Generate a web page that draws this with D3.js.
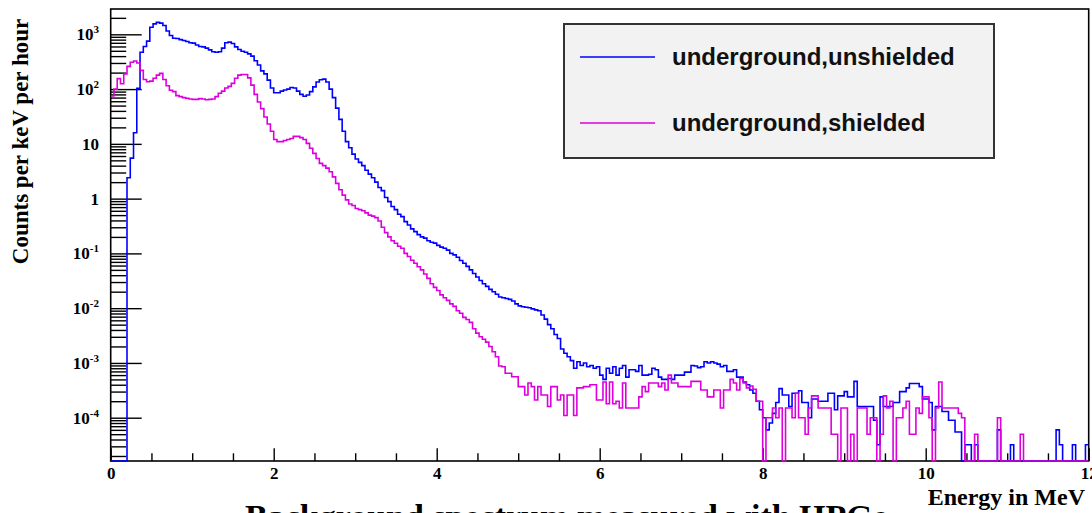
<!DOCTYPE html>
<html>
<head>
<meta charset="utf-8">
<script src="https://cdn.jsdelivr.net/npm/d3@7"></script>
<style>
  body { margin: 0; background: #fff; }
  svg { display: block; }
</style>
</head>
<body>
<svg id="chart" width="1092" height="513"></svg>
<script>
// Energy bins: 300 bins of 0.04 MeV from 0 to 12 MeV
const binWidth = 0.04;

// Counts per keV per hour, underground detector without shielding
const unshielded = [
  0, 0, 0, 0, 0, 2.4, 5.5, 16, 103, 470,
  600, 750, 1350, 1550, 1650, 1600, 1450, 1150, 950, 850,
  840, 800, 770, 740, 700, 690, 640, 600, 590, 560,
  520, 480, 470, 480, 560, 700, 720, 680, 590, 530,
  490, 470, 440, 400, 330, 275, 215, 190, 146, 105,
  86, 86, 92, 96, 100, 107, 105, 92, 80, 74,
  78, 90, 110, 135, 148, 152, 135, 100, 70, 45,
  28, 17, 11, 8.5, 6.5, 5.3, 4.6, 4.0, 3.3, 2.8,
  2.4, 2.0, 1.6, 1.4, 1.05, 0.88, 0.72, 0.63, 0.52, 0.47,
  0.38, 0.33, 0.28, 0.25, 0.22, 0.2, 0.19, 0.17, 0.16, 0.154,
  0.14, 0.13, 0.124, 0.115, 0.1, 0.094, 0.085, 0.074, 0.066, 0.058,
  0.05, 0.043, 0.037, 0.032, 0.028, 0.025, 0.022, 0.02, 0.018, 0.016,
  0.0155, 0.015, 0.0145, 0.0135, 0.012, 0.011, 0.0106, 0.0104, 0.0102, 0.0097,
  0.0093, 0.009, 0.0075, 0.0063, 0.005, 0.0042, 0.0033, 0.0028, 0.0018, 0.0015,
  0.0013, 0.0011, 0.0008, 0.00105, 0.0009, 0.001, 0.00085, 0.0009, 0.0008, 0.00085,
  0.0006, 0.0005, 0.0008, 0.00065, 0.00085, 0.0006, 0.0008, 0.0009, 0.00055, 0.00075,
  0.00075, 0.0007, 0.0009, 0.0006, 0.0006, 0.00062, 0.0008, 0.00075, 0.00055, 0.0005,
  0.0005, 0.00052, 0.0005, 0.0006, 0.0006, 0.0006, 0.00068, 0.00068, 0.0009, 0.00088,
  0.00082, 0.00085, 0.00105, 0.001, 0.00105, 0.001, 0.00095, 0.00085, 0.0009, 0.0007,
  0.0007, 0.00075, 0.00055, 0.00055, 0.00045, 0.0004, 0.00032, 0.00028, 0.0002, 0.00014,
  0.0001, 0.00006, 0.00008, 0.00012, 0.00019, 0.00034, 0.00026, 0.00026, 0.00016, 0.00028,
  0.00028, 0.00031, 0.00019, 0.00019, 0.0001, 0.00022, 0.00022, 0.0002, 0.0002, 0.0002,
  0.00028, 0.00028, 0.00014, 0.00025, 0.00025, 0.0003, 0.00024, 0.00024, 0.00046, 0.00016,
  0.00016, 0.00016, 0.00016, 0.00016, 0.00009, 0.000032, 0.00024, 0.00016, 0.00016, 0.00016,
  0.00019, 0.00019, 0.0003, 0.0003, 0.00035, 0.00042, 0.00042, 0.00042, 0.00037, 0.00022,
  0.00022, 0.00019, 0.00006, 0.00016, 0.00016, 0.00013, 0.00013, 0.00009, 0.00009, 0.000055,
  0.000055, 0, 0.000032, 0.000032, 0, 0.000032, 0, 0, 0, 0,
  0, 0, 0.00006, 0, 0, 0, 0.000032, 0, 0, 0,
  0, 0, 0, 0, 0, 0, 0, 0, 0, 0,
  0.00006, 0.000032, 0, 0, 0, 0.000032, 0, 0, 0, 0.000032
];

// Counts per keV per hour, underground detector inside the shield
const shielded = [
  75, 100, 155, 125, 190, 260, 310, 325, 300, 220,
  150, 136, 140, 158, 180, 194, 150, 115, 95, 90,
  76, 73, 70, 68, 66, 65, 65, 67, 66, 64,
  65, 66, 73, 84, 92, 105, 112, 127, 158, 180,
  185, 185, 160, 118, 80, 58, 44, 31, 23, 17,
  12, 11, 11, 11.5, 12, 12.5, 13.7, 13.7, 13, 12,
  10.2, 8.3, 6.7, 5.4, 4.4, 4.0, 3.6, 3.1, 2.5, 1.9,
  1.45, 1.16, 0.95, 0.8, 0.75, 0.66, 0.63, 0.6, 0.55, 0.5,
  0.48, 0.45, 0.39, 0.3, 0.24, 0.2, 0.17, 0.153, 0.135, 0.124,
  0.1, 0.088, 0.075, 0.066, 0.057, 0.05, 0.042, 0.035, 0.028, 0.024,
  0.021, 0.0175, 0.0155, 0.0139, 0.012, 0.0108, 0.009, 0.0081, 0.0068, 0.0062,
  0.0055, 0.0042, 0.0035, 0.003, 0.0027, 0.0024, 0.002, 0.0016, 0.0013, 0.00088,
  0.00085, 0.00065, 0.00065, 0.00056, 0.00056, 0.00037, 0.00037, 0.00026, 0.00043, 0.00037,
  0.00021, 0.00037, 0.00026, 0.00026, 0.00016, 0.00037, 0.00037, 0.00021, 0.00026, 0.00011,
  0.00026, 0.00026, 0.00011, 0.00035, 0.00035, 0.00037, 0.00037, 0.0004, 0.0004, 0.00021,
  0.00021, 0.00045, 0.00018, 0.00045, 0.00018, 0.0002, 0.00015, 0.00043, 0.00015, 0.00015,
  0.00015, 0.00015, 0.00024, 0.00037, 0.0003, 0.00043, 0.00043, 0.00043, 0.00037, 0.00043,
  0.00032, 0.0006, 0.00043, 0.00043, 0.00037, 0.00037, 0.00037, 0.00037, 0.00046, 0.00046,
  0.00046, 0.00032, 0.00032, 0.00024, 0.00024, 0.00032, 0.00032, 0.00015, 0.00032, 0.00032,
  0.0005, 0.00043, 0.00032, 0.00052, 0.00043, 0.00035, 0.00038, 0.00033, 0.0002, 0.0002,
  0, 0.0001, 0.0001, 0.00015, 0.0001, 0.00015, 0, 0.00015, 0.00015, 0.0001,
  0.00028, 0.0001, 0.0001, 0.00005, 0.00015, 0.00025, 0.00025, 0.00015, 0.00015, 0.00015,
  0.00015, 0.00005, 0.00005, 0, 0.00015, 0.00015, 0, 0.00005, 0, 0.00015,
  0.00015, 0.00015, 0.00005, 0.0001, 0.0001, 0, 0.00005, 0.00025, 0.00015, 0.0002,
  0, 0.0001, 0.0001, 0.00015, 0.0002, 0.00005, 0.00005, 0.00015, 0.00012, 0.00024,
  0.00024, 0.0001, 0, 0.00015, 0.00045, 0.00015, 0.00015, 0.00015, 0.00015, 0.00015,
  0.00012, 0.0001, 0, 0, 0, 0.00005, 0, 0, 0, 0,
  0, 0, 0.0001, 0, 0, 0, 0, 0, 0, 0.00005,
  0, 0, 0, 0, 0, 0, 0, 0, 0, 0,
  0, 0, 0, 0, 0, 0, 0, 0, 0, 0
];

const seriesNames = ["underground,unshielded", "underground,shielded"];
const seriesColors = ["#0000ff", "#dd00dd"];
const xTickValues = [0, 2, 4, 6, 8, 10, 12];
const xMinorStep = 0.5;
const yTickExponents = [-4, -3, -2, -1, 0, 1, 2, 3];
const xTitle = "Energy in MeV";
const yTitle = "Counts per keV per hour";
const plotTitle = "Background spectrum measured with HPGe";

const svg = d3.select("#chart");
const frame = { left: 110.7, right: 1088.7, top: 9, bottom: 461 };
const serif = "'Liberation Serif', 'Times New Roman', serif";
const sans = "'Liberation Sans', Arial, sans-serif";

const x = d3.scaleLinear().domain([0, 12]).range([frame.left, frame.right]);
const y = d3.scaleLog().domain([1.62e-5, 2.9e3]).range([frame.bottom, frame.top]);
const yFloor = y.domain()[0];

svg.append("defs").append("clipPath").attr("id", "plotClip")
  .append("rect")
  .attr("x", frame.left).attr("y", frame.top - 1)
  .attr("width", frame.right - frame.left)
  .attr("height", frame.bottom - frame.top + 2);

// X axis: minor ticks every 0.5 MeV, major ticks with labels every 2 MeV
const xMinor = d3.range(0, 12 + 1e-9, xMinorStep).filter(v => !xTickValues.includes(v));
svg.append("g").attr("transform", `translate(0,${frame.bottom})`)
  .call(d3.axisBottom(x).tickValues(xMinor).tickSizeInner(-7.7).tickSizeOuter(0).tickFormat(""))
  .call(g => g.select(".domain").remove());
const gx = svg.append("g").attr("transform", `translate(0,${frame.bottom})`)
  .call(d3.axisBottom(x).tickValues(xTickValues).tickSizeInner(-12.7).tickSizeOuter(0)
    .tickPadding(6).tickFormat(d3.format("d")))
  .call(g => g.select(".domain").remove());
gx.selectAll("text")
  .attr("font-family", serif).attr("font-weight", "bold").attr("font-size", 17).attr("fill", "#000");

// Y axis (log): minor ticks at 2..9 x 10^n, major ticks at decades
const yMinor = [];
for (let e = -5; e <= 3; e++) {
  for (let k = 2; k <= 9; k++) {
    const v = k * Math.pow(10, e);
    if (v >= yFloor && v <= y.domain()[1]) yMinor.push(v);
  }
}
const yMajor = yTickExponents.map(e => Math.pow(10, e));
svg.append("g").attr("transform", `translate(${frame.left},0)`)
  .call(d3.axisLeft(y).tickValues(yMinor).tickSizeInner(-15.5).tickSizeOuter(0).tickFormat(""))
  .call(g => g.select(".domain").remove());
svg.append("g").attr("transform", `translate(${frame.left},0)`)
  .call(d3.axisLeft(y).tickValues(yMajor).tickSizeInner(-31).tickSizeOuter(0).tickFormat(""))
  .call(g => g.select(".domain").remove());
svg.selectAll(".tick line").attr("stroke", "#000").attr("stroke-width", 1.4);

// Decade labels written as powers of ten
const yLabels = svg.append("g")
  .attr("font-family", serif).attr("font-weight", "bold").attr("font-size", 17)
  .attr("text-anchor", "end").attr("fill", "#000");
yTickExponents.forEach(e => {
  const t = yLabels.append("text").attr("x", 99).attr("y", y(Math.pow(10, e))).attr("dy", "0.35em");
  if (e === 0) t.text("1");
  else if (e === 1) t.text("10");
  else {
    t.append("tspan").text("10");
    t.append("tspan").attr("dy", -7).attr("font-size", 11).text(String(e).replace("-", "-"));
  }
});

// Frame around the plotting area
svg.append("rect")
  .attr("x", frame.left).attr("y", frame.top)
  .attr("width", frame.right - frame.left).attr("height", frame.bottom - frame.top)
  .attr("fill", "none").attr("stroke", "#000").attr("stroke-width", 1.6);

// Histograms drawn as steps; empty bins sit on the lower edge of the frame
const stepLine = d3.line()
  .x(d => x(d[0]))
  .y(d => y(d[1] > 0 ? d[1] : yFloor));
function stepPoints(values) {
  const pts = [];
  values.forEach((v, i) => {
    pts.push([i * binWidth, v]);
    pts.push([(i + 1) * binWidth, v]);
  });
  return pts;
}
const plot = svg.append("g").attr("clip-path", "url(#plotClip)");
[unshielded, shielded].forEach((vals, i) => {
  plot.append("path")
    .attr("d", stepLine(stepPoints(vals)))
    .attr("fill", "none")
    .attr("stroke", seriesColors[i])
    .attr("stroke-width", 1.6)
    .attr("stroke-linejoin", "miter");
});

// Legend
const legend = svg.append("g");
legend.append("rect")
  .attr("x", 564).attr("y", 24).attr("width", 430).attr("height", 134)
  .attr("fill", "#f2f2f2").attr("stroke", "#333").attr("stroke-width", 2);
const legendRowY = [57, 123];
seriesNames.forEach((name, i) => {
  legend.append("line")
    .attr("x1", 580).attr("x2", 655)
    .attr("y1", legendRowY[i]).attr("y2", legendRowY[i])
    .attr("stroke", seriesColors[i]).attr("stroke-width", 1.6);
  legend.append("text")
    .attr("x", 672).attr("y", legendRowY[i] + 8)
    .attr("font-family", sans).attr("font-weight", "bold").attr("font-size", 24)
    .attr("fill", "#111").text(name);
});

// Axis titles and caption
svg.append("text")
  .attr("transform", "translate(28,141.5) rotate(-90)")
  .attr("text-anchor", "middle")
  .attr("font-family", serif).attr("font-weight", "bold").attr("font-size", 23)
  .attr("fill", "#000").text(yTitle);
svg.append("text")
  .attr("x", 1085).attr("y", 505).attr("text-anchor", "end")
  .attr("font-family", serif).attr("font-weight", "bold").attr("font-size", 24)
  .attr("fill", "#000").text(xTitle);
svg.append("text")
  .attr("x", 245).attr("y", 528)
  .attr("font-family", serif).attr("font-weight", "bold").attr("font-size", 34)
  .attr("fill", "#000").text(plotTitle);
</script>
</body>
</html>
